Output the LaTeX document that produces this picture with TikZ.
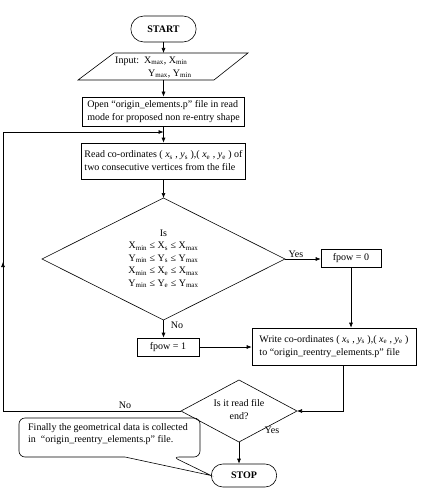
\documentclass[tikz,border=0pt]{standalone}
\usepackage{fontspec}
\setmainfont{Liberation Serif}
\usetikzlibrary{arrows.meta,shapes.misc,calc}
\begin{document}
\begin{tikzpicture}[x=1pt,y=-1pt,
  every node/.style={font=\fontsize{10}{13}\selectfont},
  box/.style={draw,line width=0.6pt,inner xsep=3pt,inner ysep=1pt},
  term/.style={draw,rounded rectangle,line width=0.6pt,minimum width=72pt,font=\fontsize{10}{12}\selectfont\bfseries},
  flow/.style={line width=0.6pt,-{Latex[length=5pt,width=4pt]}},
  plain/.style={line width=0.6pt},
  lbl/.style={inner sep=1pt}]
\useasboundingbox (0,0) rectangle (423,492);
% start
\node[term,minimum height=26pt] (start) at (163.5,29) {START};
% input parallelogram
\coordinate (inpN) at (163.5,53);
\coordinate (inpS) at (163.5,80);
\draw[plain] (114,53) -- (248,53) -- (214,80) -- (78,80) -- cycle;
\node[align=left,anchor=west,inner sep=0] (input) at (115,67.5)
  {Input:\ \ X\textsubscript{max}, X\textsubscript{min}\\\hspace*{33pt}Y\textsubscript{max}, Y\textsubscript{min}};
\draw[flow] (start.south) -- (inpN);
% open
\node[box,minimum width=162pt,minimum height=29pt,align=left] (open) at (163.5,111.5)
  {Open “origin\_elements.p” file in read\\mode for proposed non re-entry shape};
\draw[flow] (inpS) -- (open.north);
% read
\node[box,minimum width=161pt,minimum height=36pt,align=left] (read) at (163.5,161)
  {Read co-ordinates ( \textit{x}\textsubscript{s} , \textit{y}\textsubscript{s} ),( \textit{x}\textsubscript{e} , \textit{y}\textsubscript{e} ) of\\two consecutive vertices from the file};
\draw[flow] (open.south) -- (read.north);
% decision 1
\coordinate (d1n) at (163.5,198);
\coordinate (d1e) at (285,259);
\coordinate (d1s) at (163.5,320);
\coordinate (d1w) at (42,259);
\draw[plain] (d1n) -- (d1e) -- (d1s) -- (d1w) -- cycle;
\node[align=center,inner sep=0,font=\fontsize{10}{12.5}\selectfont] (d1) at (163.5,259)
  {Is\\X\textsubscript{min} ≤ X\textsubscript{s} ≤ X\textsubscript{max}\\Y\textsubscript{min} ≤ Y\textsubscript{s} ≤ Y\textsubscript{max}\\X\textsubscript{min} ≤ X\textsubscript{e} ≤ X\textsubscript{max}\\Y\textsubscript{min} ≤ Y\textsubscript{e} ≤ Y\textsubscript{max}};
\draw[flow] (read.south) -- (d1n);
% fpow = 0
\node[box,minimum width=60pt,minimum height=18pt] (f0) at (351,258) {fpow = 0};
\draw[flow] (d1e) -- (d1e -| f0.west);
\node[lbl] at (296,254) {Yes};
% write
\node[box,minimum width=164pt,minimum height=37pt,align=left] (wr) at (334,346.5)
  {Write co-ordinates ( \textit{x}\textsubscript{s} , \textit{y}\textsubscript{s} ),( \textit{x}\textsubscript{e} , \textit{y}\textsubscript{e} )\\to “origin\_reentry\_elements.p” file};
\draw[flow] (f0.south) -- (f0.south |- wr.north);
% fpow = 1
\node[box,minimum width=62pt,minimum height=18pt] (f1) at (168,347) {fpow = 1};
\draw[flow] (d1s) -- (d1s |- f1.north);
\node[lbl] at (177,325) {No};
\draw[flow] (f1.east) -- (f1.east -| wr.west);
% decision 2
\coordinate (d2n) at (239,380);
\coordinate (d2e) at (297,411);
\coordinate (d2s) at (239,442);
\coordinate (d2w) at (181,411);
\draw[plain] (d2n) -- (d2e) -- (d2s) -- (d2w) -- cycle;
\node[align=center,inner sep=0] (d2) at (239,410) {Is it read file\\end?};
\coordinate (c1) at (343,411);
\draw[flow] (wr.south -| c1) -- (c1) -- (d2e);
% loop back
\coordinate (l1) at (3,411);
\coordinate (lm) at (3,262);
\coordinate (l2) at (3,132);
\coordinate (j) at (163.5,132);
\draw[plain] (d2w) -- (l1) -- (l2);
\draw[flow] (l1) -- (lm);
\draw[flow] (l2) -- (j);
\node[lbl] at (125,405) {No};
% stop
\node[term,minimum height=23pt] (stop) at (244,475.5) {STOP};
\draw[flow] (d2s) -- (d2s |- stop.north);
\node[lbl] at (272,430) {Yes};
% callout
\draw[plain] (19,424) [rounded corners=6pt] -- (19,418) -- (200,418) -- (200,457) -- (173,457) [sharp corners] -- (stop.west) -- (125,457) [rounded corners=6pt] -- (19,457) -- (19,424);
\node[align=left,inner sep=0,font=\fontsize{10}{11.5}\selectfont] (note) at (108,434)
  {Finally the geometrical data is collected\\in \ “origin\_reentry\_elements.p” file.};
\end{tikzpicture}
\end{document}
